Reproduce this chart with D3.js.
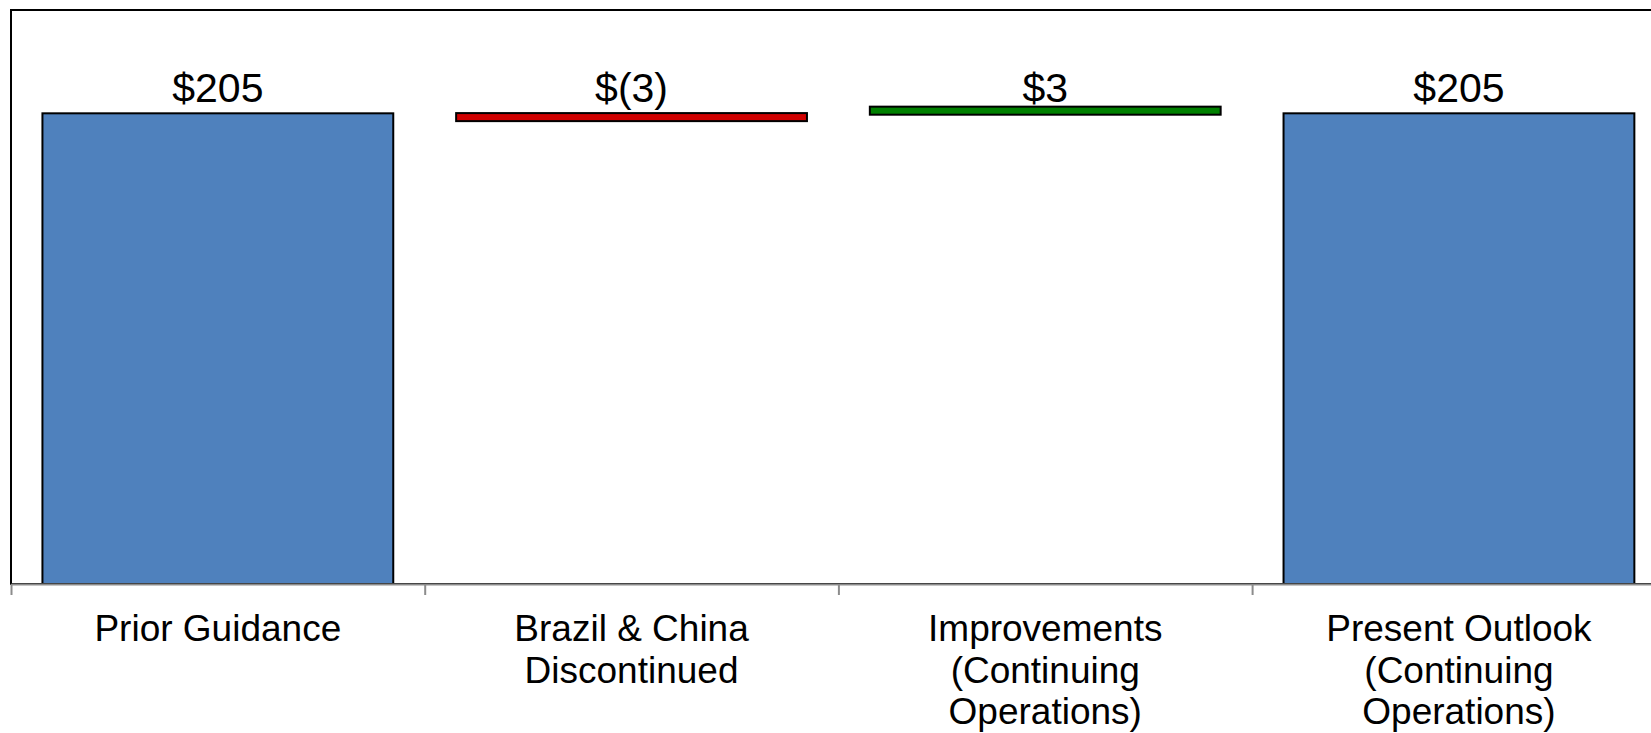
<!DOCTYPE html>
<html>
<head>
<meta charset="utf-8">
<script src="https://cdn.jsdelivr.net/npm/d3@7"></script>
<style>
  html, body { margin: 0; padding: 0; background: #fff; overflow: hidden; }
  svg { display: block; }
  text { font-family: "Liberation Sans", Arial, sans-serif; fill: #000; }
</style>
</head>
<body>
<svg id="chart" width="1651" height="733"></svg>
<script>
// ---- data ----
const categories = ["Prior Guidance", "Brazil & China Discontinued", "Improvements (Continuing Operations)", "Present Outlook (Continuing Operations)"];
const categoryLines = [
  ["Prior Guidance"],
  ["Brazil & China", "Discontinued"],
  ["Improvements", "(Continuing", "Operations)"],
  ["Present Outlook", "(Continuing", "Operations)"]
];
const baseValues = [0, 201.6, 204.4, 0];     // invisible floating base
const barValues  = [205, 3.5, 3.5, 205];      // visible segment height
const barKinds   = ["total", "decrease", "increase", "total"];
const valueLabels = ["$205", "$(3)", "$3", "$205"];
const yDomain = [0, 250];

// ---- layout ----
const svg = d3.select("#chart");
const plot = { left: 11, top: 10, right: 1665.8, bottom: 584 };
const colors = { total: "#4F81BD", decrease: "#D00000", increase: "#008000" };

const x = d3.scaleBand().domain(categories).range([plot.left, plot.right]).paddingInner(0).paddingOuter(0);
const y = d3.scaleLinear().domain(yDomain).range([plot.bottom, plot.top]);
const barFrac = 0.848;

// plot area frame
svg.append("rect")
  .attr("x", plot.left).attr("y", plot.top)
  .attr("width", plot.right - plot.left).attr("height", plot.bottom - plot.top)
  .attr("fill", "none").attr("stroke", "#000").attr("stroke-width", 2);

const data = categories.map((c, i) => ({
  cat: c, base: baseValues[i], value: barValues[i], kind: barKinds[i], label: valueLabels[i], lines: categoryLines[i]
}));

const bw = x.bandwidth() * barFrac;
svg.append("g").selectAll("rect").data(data).join("rect")
  .attr("x", d => x(d.cat) + (x.bandwidth() - bw) / 2)
  .attr("width", bw)
  .attr("y", d => y(d.base + d.value))
  .attr("height", d => y(d.base) - y(d.base + d.value))
  .attr("fill", d => colors[d.kind])
  .attr("stroke", "#000").attr("stroke-width", 2);

// value labels
const maxTop = d3.max(data, d => d.base + d.value);
svg.append("g").selectAll("text").data(data).join("text")
  .attr("x", d => x(d.cat) + x.bandwidth() / 2)
  .attr("y", y(maxTop) - 5)
  .attr("text-anchor", "middle")
  .style("font-size", "41px")
  .text(d => d.label);

// x axis with ticks at category boundaries
const idx = d3.scaleLinear().domain([0, categories.length]).range([plot.left, plot.right]);
const axis = svg.append("g")
  .attr("transform", `translate(0,${plot.bottom})`)
  .call(d3.axisBottom(idx).tickValues(d3.range(categories.length + 1)).tickSize(11).tickFormat("").tickSizeOuter(0));
axis.selectAll("path, line").attr("stroke", "#8c8c8c").attr("stroke-width", 2);

// category labels
const catG = svg.append("g").selectAll("text").data(data).join("text")
  .attr("x", d => x(d.cat) + x.bandwidth() / 2)
  .attr("y", 641)
  .attr("text-anchor", "middle")
  .style("font-size", "37px");
catG.selectAll("tspan").data(d => d.lines.map(l => ({ l, cx: x(d.cat) + x.bandwidth() / 2 }))).join("tspan")
  .attr("x", t => t.cx)
  .attr("dy", (t, i) => i === 0 ? 0 : 41.5)
  .text(t => t.l);
</script>
</body>
</html>
